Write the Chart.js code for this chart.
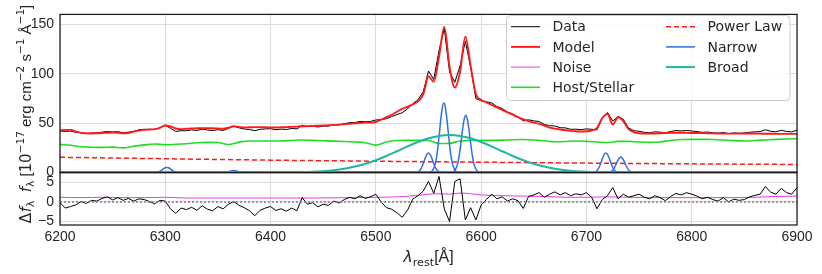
<!DOCTYPE html>
<html>
<head>
<meta charset="utf-8">
<script src="https://cdn.jsdelivr.net/npm/chart.js@4.4.1/dist/chart.umd.min.js"></script>
<style>
  html, body { margin: 0; padding: 0; background: #ffffff; }
  canvas { display: block; }
</style>
</head>
<body>
<canvas id="spec" width="822" height="274"></canvas>
<script>
// wavelength grids (Angstrom, rest frame)
const gridWave = Array.from({ length: 141 }, (_, i) => 6200 + 5 * i);
const hostWave = Array.from({ length: 71 }, (_, i) => 6200 + 10 * i);

// observed spectrum, rows of 50 A
const dataFlux = [
  42.3, 41.6, 42.0, 40.7, 40.3, 39.4, 40.0, 40.0, 40.9, 41.6,
  41.0, 41.4, 40.2, 40.9, 41.7, 43.3, 43.8, 43.7, 43.5, 45.6,
  47.8, 44.8, 41.6, 42.4, 42.3, 43.2, 42.6, 44.0, 43.1, 42.5,
  43.4, 42.6, 44.8, 46.9, 45.3, 44.1, 43.5, 42.4, 43.8, 44.2,
  44.4, 43.4, 44.0, 43.6, 44.6, 44.2, 47.9, 46.4, 47.0, 46.1,
  47.0, 47.0, 48.4, 48.2, 49.5, 50.5, 50.6, 51.8, 51.4, 51.8,
  53.2, 53.5, 54.5, 56.6, 58.7, 60.5, 64.3, 69.7, 73.6, 81.8,
  102.8, 94.2, 123.6, 145.6, 101.9, 91.3, 108.0, 132.8, 106.5, 74.8,
  72.7, 71.6, 70.5, 66.8, 64.8, 61.2, 59.3, 56.3, 52.3, 53.4,
  52.3, 51.7, 48.7, 47.5, 47.1, 45.4, 45.2, 43.8, 43.9, 43.4,
  44.2, 43.8, 43.2, 55.6, 60.8, 52.2, 56.8, 54.0, 45.2, 42.4,
  41.8, 40.7, 40.3, 41.2, 40.9, 40.3, 41.6, 42.5, 42.1, 42.6,
  42.1, 41.5, 40.7, 41.0, 40.3, 39.8, 40.6, 39.4, 40.1, 39.8,
  40.1, 40.8, 41.2, 41.4, 43.3, 41.8, 41.2, 42.7, 41.6, 41.2,
  42.9
];

// total model
const modelFlux = [
  42.5, 43.2, 43.2, 41.5, 40.2, 39.8, 39.6, 39.8, 40.0, 40.3,
  40.5, 40.3, 39.8, 40.0, 41.5, 42.5, 43.2, 43.6, 44.0, 45.2,
  47.6, 46.6, 44.6, 44.0, 44.3, 44.6, 44.8, 45.0, 45.0, 44.8,
  44.6, 44.4, 45.4, 46.8, 46.2, 45.6, 45.8, 46.0, 46.0, 45.8,
  45.6, 45.6, 45.8, 46.0, 46.2, 46.5, 46.8, 47.0, 47.2, 47.4,
  47.6, 47.9, 48.2, 48.5, 48.9, 49.3, 49.8, 50.2, 50.5, 50.5,
  51.2, 53.5, 56.0, 58.5, 61.5, 64.5, 66.5, 69.0, 72.0, 79.0,
  97.5, 92.0, 117.0, 147.4, 107.0, 86.0, 102.0, 137.5, 108.0, 79.5,
  73.5, 71.0, 68.5, 66.0, 63.5, 61.0, 58.5, 56.0, 54.0, 52.0,
  50.5, 49.3, 47.5, 45.5, 44.5, 43.6, 42.8, 42.2, 41.8, 41.6,
  41.8, 42.6, 45.0, 55.0, 59.2, 48.5, 56.0, 52.0, 44.0, 40.8,
  39.8, 39.5, 39.5, 39.6, 39.8, 40.0, 40.2, 40.3, 40.3, 40.2,
  40.1, 40.0, 39.9, 39.8, 39.7, 39.6, 39.5, 39.4, 39.4, 39.4,
  39.5, 39.5, 39.5, 39.4, 39.3, 39.3, 39.2, 39.2, 39.2, 39.2,
  39.2
];

// data - model
const residual = [
  -0.2, -1.6, -1.2, -0.8, 0.1, -0.4, 0.4, 0.2, 0.9, 1.3,
  0.5, 1.1, 0.4, 0.9, 0.2, 0.8, 0.6, 0.1, -0.5, 0.4,
  0.2, -1.8, -3.0, -1.6, -2.0, -1.4, -2.2, -1.0, -1.9, -2.3,
  -1.2, -1.8, -0.6, 0.1, -0.9, -1.5, -2.3, -3.6, -2.2, -1.6,
  -1.2, -2.2, -1.8, -2.4, -1.6, -2.3, 1.1, -0.6, -0.2, -1.3,
  -0.6, -0.9, 0.2, -0.3, 0.6, 1.2, 0.8, 1.6, 0.9, 1.3,
  2.0, 0.0, -1.5, -1.9, -2.8, -4.0, -2.2, 0.7, 1.6, 2.8,
  5.3, 2.2, 6.6, -1.8, -5.1, 5.3, 6.0, -4.7, -1.5, -4.7,
  -0.8, 0.6, 2.0, 0.8, 1.3, 0.2, 0.8, 0.3, -1.7, 1.4,
  1.8, 2.4, 1.2, 2.0, 2.6, 1.8, 2.4, 1.6, 2.1, 1.8,
  2.4, 1.2, -1.8, 0.6, 1.6, 3.7, 0.8, 2.0, 1.2, 1.6,
  2.0, 1.2, 0.8, 1.6, 1.1, 0.3, 1.4, 2.2, 1.8, 2.4,
  2.0, 1.5, 0.8, 1.2, 0.6, 0.2, 1.1, 0.0, 0.7, 0.4,
  0.6, 1.3, 1.7, 2.0, 4.0, 2.5, 2.0, 3.5, 2.4, 2.0,
  3.7
];

const noiseWave = [6200, 6220, 6240, 6260, 6280, 6300, 6320, 6340, 6360, 6380, 6400, 6420, 6440, 6460, 6480,
  6500, 6520, 6540, 6550, 6560, 6570, 6580, 6590, 6600, 6620, 6640, 6660, 6680, 6700, 6720, 6740,
  6760, 6780, 6800, 6820, 6840, 6860, 6880, 6900];
const noiseFlux = [1.2, 1.1, 1.2, 1.1, 1.1, 1.2, 1.0, 1.0, 1.0, 1.0, 1.0, 1.0, 1.0, 1.05, 1.1,
  1.2, 1.3, 1.7, 2.0, 2.1, 2.0, 2.3, 2.1, 1.8, 1.6, 1.5, 1.4, 1.2, 1.2, 1.3, 1.2,
  1.1, 1.1, 1.1, 1.1, 1.1, 1.2, 1.4, 1.5];

const hostFlux = [
  28.5, 27.6, 26.2, 25.7, 25.5, 25.8, 25.0, 26.6, 28.0, 28.9,
  28.2, 28.6, 29.2, 30.2, 30.6, 30.4, 28.4, 30.8, 32.0, 32.0,
  32.0, 32.0, 32.5, 33.0, 32.6, 32.2, 31.8, 31.5, 31.0, 30.2,
  27.8, 31.0, 32.4, 32.6, 32.6, 32.4, 29.4, 29.6, 32.0, 32.4,
  32.6, 32.6, 32.8, 33.2, 33.4, 33.0, 32.2, 31.2, 31.4, 32.0,
  31.6, 31.0, 30.4, 31.6, 31.6, 31.0, 30.6, 31.0, 32.5, 33.4,
  33.6, 33.6, 33.5, 33.0, 32.3, 32.0, 32.4, 33.0, 33.6, 34.0,
  34.3
];

const powerWave = [6200, 6300, 6400, 6500, 6600, 6700, 6800, 6900];
const powerFlux = [15.5, 14.0, 12.6, 11.5, 10.5, 9.6, 8.85, 8.2];

const broadWave = [6200, 6390, 6400, 6410, 6420, 6430, 6440, 6450, 6460, 6470, 6480, 6490,
  6500, 6510, 6520, 6530, 6540, 6550, 6560, 6570, 6580, 6590, 6600, 6610, 6620, 6630,
  6640, 6650, 6660, 6670, 6680, 6690, 6700, 6710, 6720, 6730, 6740, 6750, 6900];
const broadFlux = [0, 0, 0.05, 0.12, 0.23, 0.45, 0.83, 1.46, 2.45, 3.95, 6.1, 8.9,
  12.5, 16.8, 21.6, 26.5, 31.0, 34.7, 37.1, 38.0, 37.1, 34.7, 31.0, 26.5, 21.6, 16.8,
  12.5, 8.9, 6.1, 3.95, 2.45, 1.46, 0.83, 0.45, 0.23, 0.12, 0.05, 0, 0];

// narrow lines: offsets from line centre (A) and profile heights
const narrowDx = [-14, -11, -8, -6, -4.5, -3, -1.5, 0, 1.5, 3, 4.5, 6, 8, 11, 14];
const narrowCenters = [6301.5, 6365.0, 6550.0, 6564.6, 6585.4, 6718.5, 6732.6];
const oi6300 = [0.01, 0.12, 0.7, 1.69, 2.76, 3.93, 4.85, 5.2, 4.85, 3.93, 2.76, 1.69, 0.7, 0.12, 0.01];
const oi6364 = [0, 0.05, 0.27, 0.65, 1.06, 1.51, 1.86, 2.0, 1.86, 1.51, 1.06, 0.65, 0.27, 0.05, 0];
const nii6548 = [0.04, 0.45, 2.69, 6.47, 10.6, 15.0, 18.5, 19.9, 18.5, 15.0, 10.6, 6.47, 2.69, 0.45, 0.04];
const halpha = [0.15, 1.6, 9.5, 22.8, 37.3, 53.1, 65.5, 70.3, 65.5, 53.1, 37.3, 22.8, 9.5, 1.6, 0.15];
const nii6583 = [0.13, 1.32, 7.84, 18.9, 30.9, 43.9, 54.1, 58.1, 54.1, 43.9, 30.9, 18.9, 7.84, 1.32, 0.13];
const sii6716 = [0.04, 0.45, 2.69, 6.47, 10.6, 15.0, 18.5, 19.9, 18.5, 15.0, 10.6, 6.47, 2.69, 0.45, 0.04];
const sii6731 = [0.03, 0.36, 2.12, 5.1, 8.34, 11.9, 14.6, 15.7, 14.6, 11.9, 8.34, 5.1, 2.12, 0.36, 0.03];
const narrowProfiles = [oi6300, oi6364, nii6548, halpha, nii6583, sii6716, sii6731];

const xTicks = [6200, 6300, 6400, 6500, 6600, 6700, 6800, 6900];
const fluxTicks = [0, 50, 100, 150];
const resTicks = [-5, 0, 5];

const legendOrder = ['Data', 'Model', 'Noise', 'Host/Stellar', 'Power Law', 'Narrow', 'Broad'];

// ---------------------------------------------------------------
const pts = (xs, ys) => xs.map((x, i) => ({ x: x, y: ys[i] }));
const TICK_FONT = { family: 'Liberation Sans', size: 14 };
const TEXT = '#262626';
const GRID = '#dcdcdc';

function line(label, data, color, width, axis, extra) {
  return Object.assign({
    label: label, data: data, yAxisID: axis,
    borderColor: color, backgroundColor: color,
    borderWidth: width, pointRadius: 0, fill: false,
    cubicInterpolationMode: 'monotone'
  }, extra || {});
}

const datasets = [
  line('Data', pts(gridWave, dataFlux), '#000000', 1, 'yFlux', { cubicInterpolationMode: 'default', tension: 0 }),
  line('Model', pts(gridWave, modelFlux), '#ff1a1a', 1.9, 'yFlux'),
  line('Noise', pts(noiseWave, noiseFlux), '#ee33ee', 1, 'yRes'),
  line('Host/Stellar', pts(hostWave, hostFlux), '#22dd22', 1.6, 'yFlux'),
  line('Power Law', pts(powerWave, powerFlux), '#ff1a1a', 1.5, 'yFlux', { borderDash: [5, 3] })
];
narrowProfiles.forEach((prof, k) => {
  const xs = [6200].concat(narrowDx.map(d => narrowCenters[k] + d), [6900]);
  const ys = [0].concat(prof, [0]);
  datasets.push(line(k === 0 ? 'Narrow' : 'Narrow ' + k, pts(xs, ys), '#2f6fe4', 1.5, 'yFlux'));
});
datasets.push(line('Broad', pts(broadWave, broadFlux), '#20b5a0', 2, 'yFlux'));
datasets.push(line('Residual', pts(gridWave, residual), '#000000', 1, 'yRes', { cubicInterpolationMode: 'default', tension: 0 }));
datasets.push(line('Zero', pts([6200, 6900], [0, 0]), '#808080', 1.5, 'yRes', { borderDash: [2, 2] }));
// later datasets on top, like the original plot
datasets.forEach((d, i) => { d.order = -i; });

// parts: [text, size, dy, italic, family]
const MATH = 'DejaVu Sans', PLAIN = 'Liberation Sans';
function richText(ctx, parts, x, y, rotated) {
  const fontOf = p => (p[3] ? 'italic ' : '') + p[1] + 'px "' + (p[4] || PLAIN) + '"';
  ctx.save();
  ctx.translate(x, y);
  if (rotated) ctx.rotate(-Math.PI / 2);
  let total = 0;
  parts.forEach(p => { ctx.font = fontOf(p); total += ctx.measureText(p[0]).width; });
  let cx = -total / 2;
  ctx.fillStyle = TEXT;
  ctx.textBaseline = 'alphabetic';
  ctx.textAlign = 'left';
  parts.forEach(p => {
    ctx.font = fontOf(p);
    ctx.fillText(p[0], cx, p[2]);
    cx += ctx.measureText(p[0]).width;
  });
  ctx.restore();
}

const decorPlugin = {
  id: 'decor',
  afterDatasetsDraw(chart) {
    const ctx = chart.ctx;
    const area = chart.chartArea;
    const yF = chart.scales.yFlux, yR = chart.scales.yRes;
    ctx.save();
    ctx.strokeStyle = '#1a1a1a';
    ctx.lineWidth = 1.25;
    [yF, yR].forEach(s => ctx.strokeRect(area.left, s.top, area.right - area.left, s.bottom - s.top));
    ctx.restore();

    // axis titles
    richText(ctx, [['f', 15, 0, true, MATH], ['λ', 10.5, 3.5, false, MATH], [' [', 15, 0],
      ['10', 15, 0, false, MATH], ['−17', 10.5, -6.5, false, MATH], [' erg cm', 15, 0],
      ['−2', 10.5, -6.5, false, MATH], [' s', 15, 0], ['−1', 10.5, -6.5, false, MATH],
      [' Å', 15, 0], ['−1', 10.5, -6.5, false, MATH], [']', 15, 0]],
      30.5, (yF.top + yF.bottom) / 2 + 5, true);
    richText(ctx, [['Δ', 15, 0, false, MATH], [' ', 3, 0], ['f', 15, 0, true, MATH], ['λ', 10.5, 3.5, false, MATH]],
      30.5, yR.bottom - 13, true);
    richText(ctx, [['λ', 16, 0, true, MATH], ['rest', 11.2, 3.5, false, MATH], ['[Å]', 16, 0]],
      (area.left + area.right) / 2, 262, false);

    // legend, two columns
    const bx = 506.5, by = 15.5, bw = 283.5, bh = 85;
    ctx.save();
    ctx.beginPath();
    ctx.roundRect(bx, by, bw, bh, 4);
    ctx.fillStyle = 'rgba(255,255,255,0.85)';
    ctx.fill();
    ctx.strokeStyle = '#cccccc';
    ctx.lineWidth = 1;
    ctx.stroke();
    ctx.font = '14px "DejaVu Sans"';
    ctx.textBaseline = 'middle';
    legendOrder.forEach((name, i) => {
      const ds = chart.data.datasets.find(d => d.label === name);
      const col = i < 4 ? 0 : 1;
      const row = i < 4 ? i : i - 4;
      const y = 26.7 + row * 20.2;
      const hx = col === 0 ? 511 : 666;
      ctx.beginPath();
      ctx.setLineDash(ds.borderDash || []);
      ctx.strokeStyle = ds.borderColor;
      ctx.lineWidth = ds.borderWidth;
      ctx.moveTo(hx, y);
      ctx.lineTo(hx + 29, y);
      ctx.stroke();
      ctx.setLineDash([]);
      ctx.fillStyle = TEXT;
      ctx.fillText(name, hx + 41.5, y + 1);
    });
    ctx.restore();
  }
};

const fixedTicks = list => scale => { scale.ticks = list.map(v => ({ value: v })); };
const minusLabel = v => (v < 0 ? '−' + Math.abs(v) : String(v));

new Chart(document.getElementById('spec').getContext('2d'), {
  type: 'line',
  data: { datasets: datasets },
  options: {
    responsive: false,
    animation: false,
    devicePixelRatio: 1,
    layout: { padding: { top: 8, right: 25, left: 0, bottom: 0 } },
    plugins: { legend: { display: false }, tooltip: { enabled: false } },
    scales: {
      x: {
        type: 'linear', min: 6200, max: 6900,
        afterBuildTicks: fixedTicks(xTicks),
        afterFit: s => { s.height = 49; },
        ticks: { font: TICK_FONT, color: TEXT, padding: 4, maxRotation: 0, autoSkip: false, callback: v => String(v) },
        grid: { color: GRID, lineWidth: 1, drawTicks: false },
        border: { display: false }
      },
      yRes: {
        type: 'linear', position: 'left', stack: 'panels', stackWeight: 54,
        min: -6, max: 7.6,
        afterBuildTicks: fixedTicks(resTicks),
        afterFit: s => { s.width = 60; },
        ticks: { font: TICK_FONT, color: TEXT, padding: 6, autoSkip: false, callback: minusLabel },
        grid: { color: GRID, lineWidth: 1, drawTicks: false },
        border: { display: false }
      },
      yFlux: {
        type: 'linear', position: 'left', stack: 'panels', stackWeight: 163,
        min: 0, max: 160,
        afterBuildTicks: fixedTicks(fluxTicks),
        afterFit: s => { s.width = 60; },
        ticks: { font: TICK_FONT, color: TEXT, padding: 6, autoSkip: false, callback: minusLabel },
        grid: { color: GRID, lineWidth: 1, drawTicks: false },
        border: { display: false }
      }
    }
  },
  plugins: [decorPlugin]
});
</script>
</body>
</html>
